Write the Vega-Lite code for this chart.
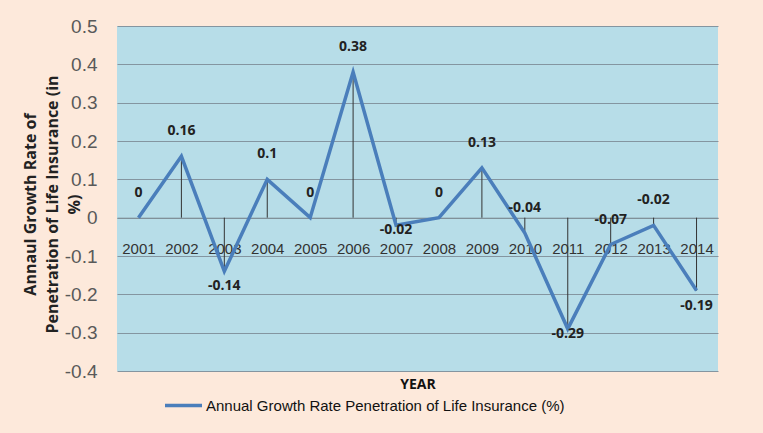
{
  "$schema": "https://vega.github.io/schema/vega-lite/v6.json",
  "width": 601,
  "height": 345,
  "autosize": {"type": "none"},
  "padding": {"left": 117, "top": 26, "right": 45, "bottom": 62},
  "background": "#fde9db",
  "config": {
    "view": {"fill": "#b7dde8", "stroke": null},
    "font": "Liberation Sans, sans-serif"
  },
  "data": {
    "values": [
      {"year": "2001", "value": 0},
      {"year": "2002", "value": 0.16},
      {"year": "2003", "value": -0.14},
      {"year": "2004", "value": 0.1},
      {"year": "2005", "value": 0},
      {"year": "2006", "value": 0.38},
      {"year": "2007", "value": -0.02},
      {"year": "2008", "value": 0},
      {"year": "2009", "value": 0.13},
      {"year": "2010", "value": -0.04},
      {"year": "2011", "value": -0.29},
      {"year": "2012", "value": -0.07},
      {"year": "2013", "value": -0.02},
      {"year": "2014", "value": -0.19}
    ]
  },
  "encoding": {
    "x": {
      "field": "year",
      "type": "ordinal",
      "scale": {"type": "point", "padding": 0.5},
      "axis": {
        "title": "YEAR",
        "orient": "bottom",
        "offset": -153.3,
        "labelAngle": 0,
        "labelPadding": 24,
        "labelFontSize": 15,
        "labelColor": "#333333",
        "ticks": false,
        "domain": true,
        "domainColor": "#7f8e96",
        "grid": false,
        "titleFontSize": 14,
        "titleFontWeight": "bold",
        "titleColor": "#111111",
        "titleFont": "Open Sans",
        "titlePadding": 121
      }
    },
    "y": {
      "field": "value",
      "type": "quantitative",
      "scale": {"domain": [-0.4, 0.5], "nice": false, "zero": false},
      "axis": {
        "values": [-0.4, -0.3, -0.2, -0.1, 0, 0.1, 0.2, 0.3, 0.4, 0.5],
        "labelExpr": "abs(datum.value) < 0.001 ? '0' : replace(format(datum.value, '.1f'), '\u2212', '-')",
        "labelFontSize": 19,
        "labelColor": "#595959",
        "labelPadding": 20,
        "ticks": false,
        "domain": false,
        "grid": true,
        "gridColor": "#8495a0",
        "gridWidth": 1,
        "title": ["Annaul Growth Rate of", "Penetration of Life Insurance (in", "%)"],
        "titleFont": "Open Sans",
        "titleFontSize": 16,
        "titleFontWeight": "bold",
        "titleColor": "#222222",
        "titleLineHeight": 22,
        "titleAngle": -90,
        "titleAlign": "center",
        "titleBaseline": "top",
        "titleX": -95,
        "titleY": 178
      }
    }
  },
  "layer": [
    {
      "mark": {"type": "rule", "color": "#333333", "strokeWidth": 1},
      "encoding": {"y2": {"datum": 0}}
    },
    {
      "mark": {"type": "line", "strokeWidth": 3.5, "strokeJoin": "miter"},
      "encoding": {
        "color": {
          "datum": "Annual Growth Rate Penetration of Life Insurance (%)",
          "scale": {"range": ["#4a7ebb"]},
          "legend": {
            "title": null,
            "orient": "none",
            "legendX": 46,
            "legendY": 359,
            "symbolType": "stroke",
            "symbolSize": 1369,
            "symbolStrokeWidth": 3.5,
            "labelFontSize": 15,
            "labelColor": "#111111",
            "labelOffset": 2,
            "labelLimit": 600
          }
        }
      }
    },
    {
      "transform": [{"filter": "indexof(['2003','2007','2011','2014'], datum.year) < 0"}],
      "mark": {"type": "text", "dy": -25, "fontWeight": "bold", "fontSize": 14, "color": "#222222", "font": "Open Sans"},
      "encoding": {"text": {"field": "value", "type": "nominal"}}
    },
    {
      "transform": [{"filter": "indexof(['2003','2014'], datum.year) >= 0"}],
      "mark": {"type": "text", "dy": 15, "fontWeight": "bold", "fontSize": 14, "color": "#222222", "font": "Open Sans"},
      "encoding": {"text": {"field": "value", "type": "nominal"}}
    },
    {
      "transform": [{"filter": "indexof(['2007','2011'], datum.year) >= 0"}],
      "mark": {"type": "text", "dy": 5, "fontWeight": "bold", "fontSize": 14, "color": "#222222", "font": "Open Sans"},
      "encoding": {"text": {"field": "value", "type": "nominal"}}
    }
  ]
}
